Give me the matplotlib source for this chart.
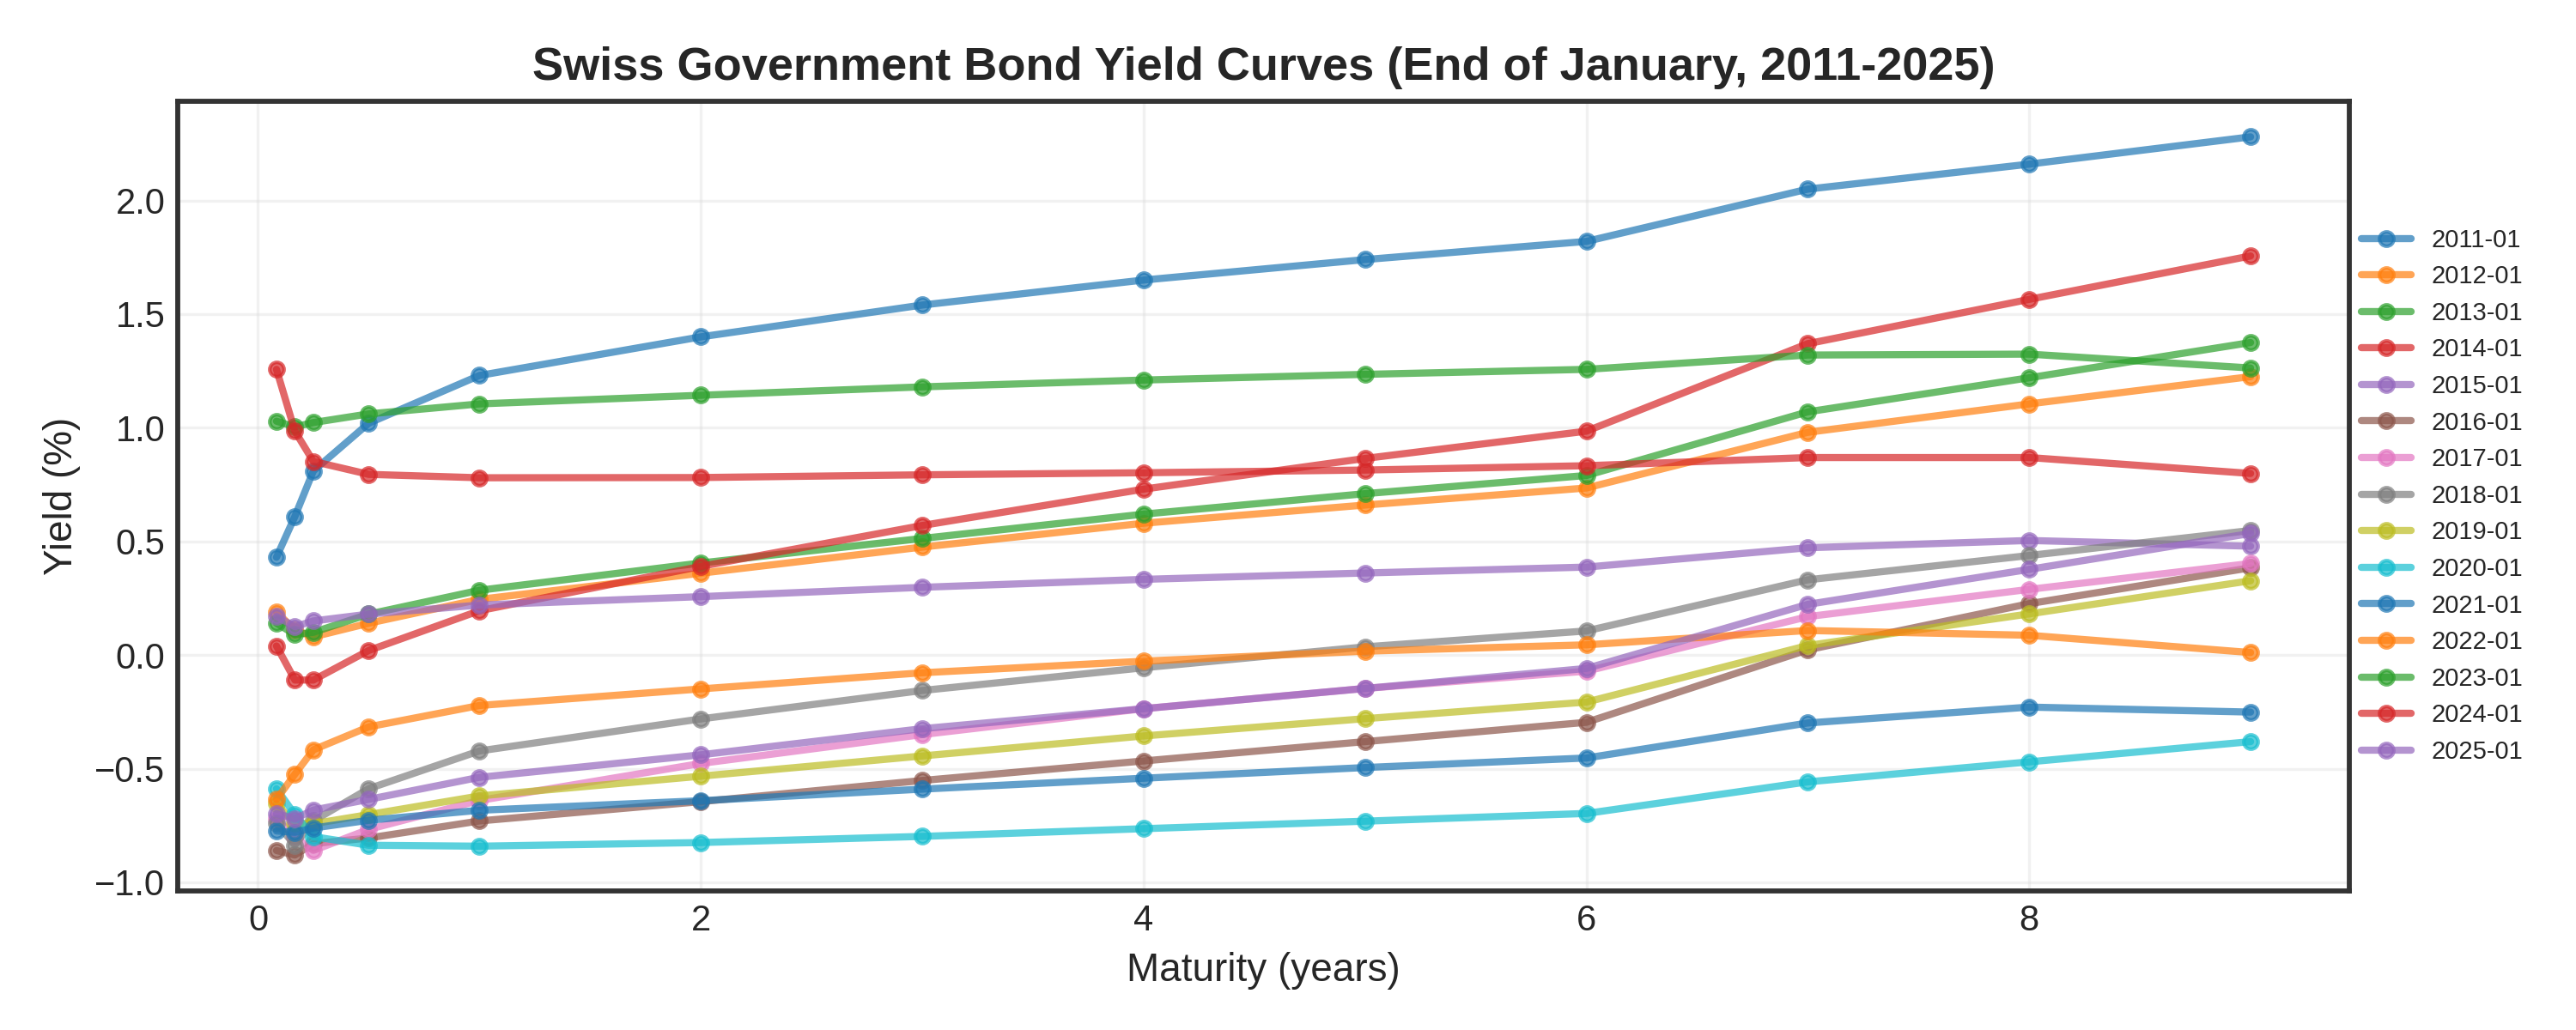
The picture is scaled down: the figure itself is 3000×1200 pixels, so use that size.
import numpy as np
from matplotlib import pyplot as plt

plt.style.use('seaborn-v0_8-white')
plt.rcParams['font.family'] = ['Liberation Sans', 'DejaVu Sans']

# maturities in years (1M, 2M, 3M, 6M, 1Y ... 9Y)
maturities = [1/12, 2/12, 0.25, 0.5, 1, 2, 3, 4, 5, 6, 7, 8, 9]

y2011 = [0.43, 0.61, 0.81, 1.02, 1.23, 1.40, 1.54, 1.65, 1.74, 1.82, 2.05, 2.16, 2.28]
y2012 = [0.19, 0.11, 0.08, 0.14, 0.245, 0.36, 0.475, 0.58, 0.66, 0.735, 0.98, 1.105, 1.225]
y2013 = [0.14, 0.09, 0.10, 0.18, 0.285, 0.405, 0.513, 0.62, 0.71, 0.79, 1.07, 1.22, 1.375]
y2014 = [0.04, -0.11, -0.11, 0.02, 0.195, 0.39, 0.57, 0.73, 0.865, 0.985, 1.37, 1.565, 1.756]
y2015 = [0.17, 0.125, 0.15, 0.18, 0.22, 0.257, 0.298, 0.333, 0.361, 0.387, 0.472, 0.504, 0.479]
y2016 = [-0.86, -0.88, -0.83, -0.805, -0.73, -0.645, -0.552, -0.466, -0.381, -0.296, 0.023, 0.226, 0.384]
y2017 = [-0.72, -0.80, -0.86, -0.767, -0.64, -0.477, -0.35, -0.236, -0.147, -0.071, 0.169, 0.289, 0.403]
y2018 = [-0.74, -0.837, -0.73, -0.588, -0.422, -0.281, -0.156, -0.056, 0.036, 0.106, 0.331, 0.438, 0.548]
y2019 = [-0.654, -0.74, -0.742, -0.702, -0.62, -0.533, -0.444, -0.356, -0.28, -0.207, 0.042, 0.181, 0.327]
y2020 = [-0.588, -0.702, -0.799, -0.837, -0.841, -0.825, -0.798, -0.764, -0.731, -0.697, -0.558, -0.47, -0.381]
y2021 = [-0.774, -0.78, -0.761, -0.727, -0.683, -0.641, -0.59, -0.542, -0.495, -0.453, -0.299, -0.229, -0.251]
y2022 = [-0.635, -0.524, -0.417, -0.316, -0.222, -0.149, -0.078, -0.027, 0.017, 0.045, 0.108, 0.087, 0.011]
y2023 = [1.029, 1.004, 1.023, 1.061, 1.105, 1.143, 1.18, 1.21, 1.235, 1.257, 1.32, 1.324, 1.263]
y2024 = [1.257, 0.985, 0.852, 0.795, 0.78, 0.781, 0.793, 0.802, 0.814, 0.833, 0.869, 0.869, 0.799]
y2025 = [-0.698, -0.72, -0.682, -0.635, -0.538, -0.439, -0.324, -0.236, -0.147, -0.059, 0.223, 0.377, 0.535]

labels = ['2011-01', '2012-01', '2013-01', '2014-01', '2015-01', '2016-01', '2017-01', '2018-01',
          '2019-01', '2020-01', '2021-01', '2022-01', '2023-01', '2024-01', '2025-01']
curves = [y2011, y2012, y2013, y2014, y2015, y2016, y2017, y2018,
          y2019, y2020, y2021, y2022, y2023, y2024, y2025]

fig, ax = plt.subplots(figsize=(10, 4), dpi=300)

for lab, vals in zip(labels, curves):
    ax.plot(maturities, vals, marker='o', markersize=4, linewidth=2, alpha=0.7, label=lab)

ax.set_title('Swiss Government Bond Yield Curves (End of January, 2011-2025)',
             fontsize=13, fontweight='bold', color='#262626')
ax.set_xlabel('Maturity (years)', fontsize=11)
ax.set_ylabel('Yield (%)', fontsize=11)
ax.tick_params(labelsize=10)
ax.grid(True, color='#dcdcdc', alpha=0.4, linewidth=0.8)
for s in ax.spines.values():
    s.set_color('#333333')
    s.set_linewidth(1.4)

ax.legend(loc='center left', bbox_to_anchor=(0.995, 0.5), fontsize=7, frameon=False)

plt.subplots_adjust(left=0.069, right=0.912, top=0.902, bottom=0.135)
plt.savefig('out.png', dpi=300)
